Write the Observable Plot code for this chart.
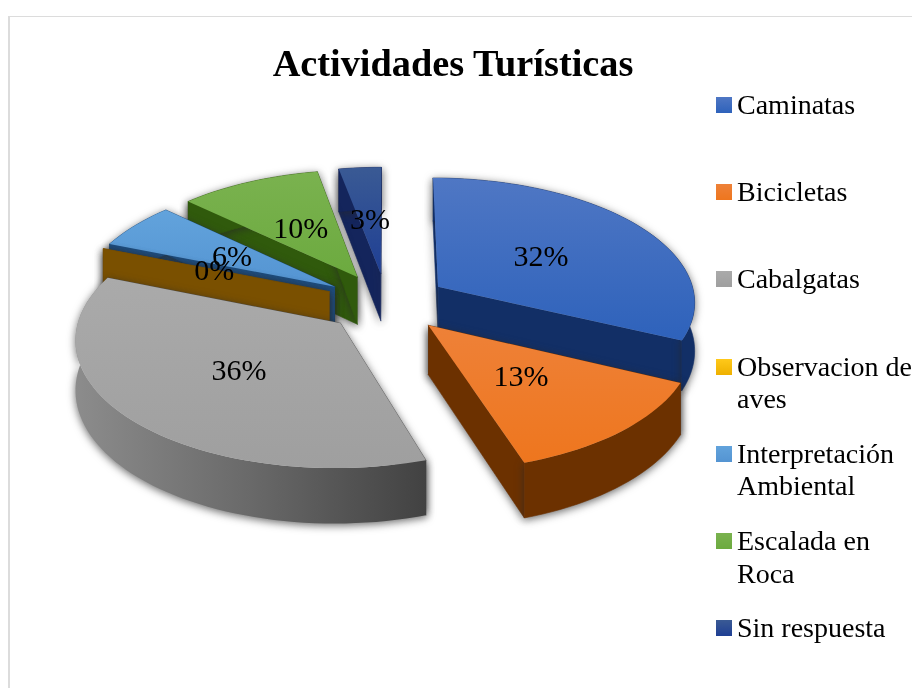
<!DOCTYPE html>
<html lang="es">
<head>
<meta charset="utf-8">
<script src="https://cdn.jsdelivr.net/npm/d3@7"></script>
<script src="https://cdn.jsdelivr.net/npm/@observablehq/plot@0.6"></script>
<style>
  html, body { margin: 0; padding: 0; background: #fff; width: 912px; height: 688px; overflow: hidden; }
  body { position: relative; font-family: "Liberation Serif", serif; color: #000; }
  #frame { position: absolute; left: 8px; top: 16px; width: 1000px; height: 800px; border-left: 2px solid #dcdcdc; border-top: 1.5px solid #dcdcdc; }
  #chart { position: absolute; left: 0; top: 0; filter: blur(0.5px); }
  #chart svg { display: block; background: transparent; }
  #title { position: absolute; left: 0; width: 906px; top: 42px; margin: 0; text-align: center; font-size: 38.3px; line-height: 42px; font-weight: bold; filter: blur(0.3px); }
  #legend { position: absolute; left: 716px; top: 89px; width: 196px; filter: blur(0.3px); }
  .item { position: relative; height: 87.2px; font-size: 28px; line-height: 32.6px; padding-left: 21px; box-sizing: border-box; white-space: normal; }
  .swatch { position: absolute; left: 0; top: 8px; width: 16px; height: 16px; }
</style>
</head>
<body>
<div id="frame"></div>
<div id="chart"></div>
<h1 id="title"></h1>
<div id="legend"></div>
<script>
const titleText = "Actividades Turísticas";
const categories = ["Caminatas", "Bicicletas", "Cabalgatas", "Observacion de aves", "Interpretación Ambiental", "Escalada en Roca", "Sin respuesta"];
const values = [32, 13, 36, 0, 6, 10, 3];
const percentLabels = ["32%", "13%", "36%", "0%", "6%", "10%", "3%"];
const topColorsA = ["#4f77c4", "#ee8138", "#aaaaaa", "#ffc91a", "#62a3dc", "#7ab24f", "#3a5a94"];
const topColorsB = ["#2e62bb", "#ee761e", "#9f9f9f", "#eeb000", "#5494d2", "#6caa3f", "#1f3f94"];
const wallColors = ["#122f66", "#6c3100", "#4e4e4e", "#7a5000", "#1d4d80", "#305a0c", "#14255c"];
const drawOrder = [6, 5, 4, 3, 0, 2, 1];

// Pie geometry: a tilted, exploded pie with mild perspective.
// Ground plane: gx to the right, gy towards the viewer.
const explode = 0.24, perspective = 0.11, thickness = 0.39, labelRadius = 0.74;
const total = d3.sum(values);
const toRad = Math.PI / 180;

function project(gx, gy, drop = 0) {
  const s = 1 / (1 - perspective * gy);
  return { x: gx * s, y: -(gy + drop) * s };
}

let cum = 0;
const slices = values.map((v, i) => {
  const a0 = cum / total * 360;
  cum += v;
  const a1 = cum / total * 360;
  const mid = (a0 + a1) / 2 * toRad;
  return { i, a0, a1, mid, ox: explode * Math.sin(mid), oy: -explode * Math.cos(mid) };
});

function ground(s, deg) {
  const t = deg * toRad;
  return [s.ox + Math.sin(t), s.oy - Math.cos(t)];
}

function arcPoints(s, drop) {
  const n = Math.max(1, Math.ceil((s.a1 - s.a0) / 2));
  return d3.range(n + 1).map(k => {
    const [gx, gy] = ground(s, s.a0 + (s.a1 - s.a0) * k / n);
    return project(gx, gy, drop);
  });
}

function apex(s, drop) {
  return project(s.ox, s.oy, drop);
}

function radialWall(s, deg) {
  const [gx, gy] = ground(s, deg);
  return [apex(s, 0), project(gx, gy, 0), project(gx, gy, thickness), apex(s, thickness)];
}

function outerWall(s) {
  return [...arcPoints(s, 0), ...arcPoints(s, thickness).reverse()];
}

function topFace(s) {
  return [apex(s, 0), ...arcPoints(s, 0)];
}

function poly(points, fill, extra = {}) {
  return Plot.line(points, { x: "x", y: "y", fill, stroke: fill, strokeWidth: 0.6, curve: "linear", ...extra });
}

const defs = () => {
  const d = d3.create("svg:defs");
  slices.forEach(s => {
    const g = d.append("linearGradient").attr("id", `top${s.i}`).attr("x1", 0).attr("y1", 0).attr("x2", 0).attr("y2", 1);
    g.append("stop").attr("offset", "0%").attr("stop-color", topColorsA[s.i]);
    g.append("stop").attr("offset", "100%").attr("stop-color", topColorsB[s.i]);
  });
  const w = d.append("linearGradient").attr("id", "greyWall").attr("x1", 0).attr("y1", 0).attr("x2", 1).attr("y2", 0);
  w.append("stop").attr("offset", "0%").attr("stop-color", "#8c8c8c");
  w.append("stop").attr("offset", "50%").attr("stop-color", "#696969");
  w.append("stop").attr("offset", "100%").attr("stop-color", "#424242");
  return d.node();
};

const shadow = { imageFilter: "drop-shadow(0px 2px 4px rgba(40,40,40,0.7))" };

const pieMarks = drawOrder.flatMap(idx => {
  const s = slices[idx];
  const wall = wallColors[idx];
  const marks = [
    poly(radialWall(s, s.a0), wall, shadow),
    poly(radialWall(s, s.a1), wall, shadow)
  ];
  if (values[idx] > 0) {
    marks.push(poly(outerWall(s), idx === 2 ? "url(#greyWall)" : wall, idx === 2 ? { ...shadow, stroke: "none" } : shadow));
    marks.push(poly(topFace(s), `url(#top${idx})`, { stroke: "none" }));
  }
  return marks;
});

const labelRows = slices.map(s => {
  const p = project(labelRadius * Math.sin(s.mid), -labelRadius * Math.cos(s.mid));
  return { ...p, label: percentLabels[s.i] };
});

const plot = Plot.plot({
  width: 912,
  height: 688,
  margin: 0,
  style: { background: "transparent", overflow: "visible" },
  x: { domain: [-1, 1], range: [128, 644], axis: null },
  y: { domain: [-1, 1], range: [426, 178], axis: null },
  marks: [
    defs,
    ...pieMarks,
    Plot.text(labelRows, { x: "x", y: "y", dy: 1, text: "label", fontSize: 30, fontFamily: "Liberation Serif", fill: "#000", textAnchor: "middle", lineAnchor: "middle" })
  ]
});
document.getElementById("chart").appendChild(plot);

document.getElementById("title").textContent = titleText;
const legend = d3.select("#legend");
categories.forEach((c, i) => {
  const it = legend.append("div").attr("class", "item");
  it.append("span").attr("class", "swatch").style("background", `linear-gradient(${topColorsA[i]}, ${topColorsB[i]})`);
  it.append("span").text(c);
});
</script>
</body>
</html>
